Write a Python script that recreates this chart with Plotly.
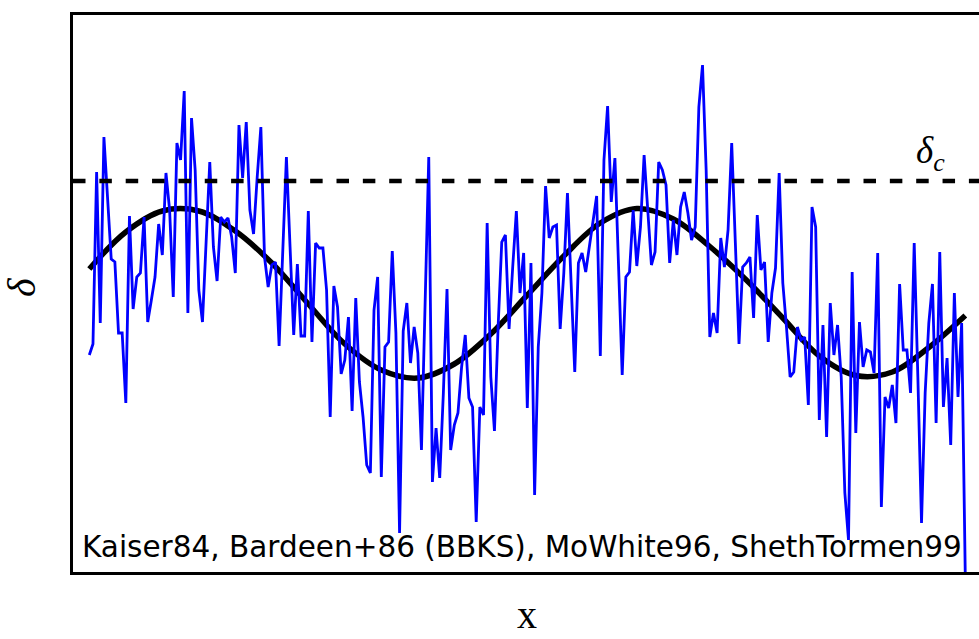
import plotly.graph_objects as go

# Noisy density field delta(x), sampled on a uniform grid (index 0..240)
delta_noisy = [
    -62, -51, 121, -30, 156, 93, 34, 31, -40, -40, -110, 77, -16, 16, 20, 76, -29, -7, 16, 69,
    38, 120, 83, -4, 150, 133, 202, -20, 175,
    123, 3, -29, 46, 131, 46, 12, 76, 71, 75, 56, 20, 168, 115, 171, 83, 59, 116, 166, 36,
    6, 28, 31, -53, 46, 136, 46, -42, 29, -43,
    -43, 82, -49, 50, 45, 45, 3, -124, 7, -14, -81, -67, -24, -118, -5, -89, -124, -172, -180, -17,
    16, -184, -54, -49, 42, -40, -240, -38, -10, -70,
    -34, -60, -157, -10, 136, -189, -135, -185, -100, 4, -157, -132, -120, -74, -42, -105, -114, -229, -114, -122,
    70, -84, -138, -34, 51, 58, -36, 26, 82, 0, 40,
    -115, 30, -202, -54, 0, 107, 55, 66, 68, -36, 20, 100, 10, -79, 30, 40, 21, 46, 73, 97,
    -63, 133, 187, 91, 135, 26, -82, 16, 21, 83,
    27, 66, 138, 83, 28, 41, 131, 123, 108, 30, 73, 38, 86, 101, 80, 53, 66, 186, 228, 123,
    -44, -20, -40, 55, 26, 63, 150, 50, -51, 26,
    30, 36, -25, 78, 23, 31, -49, 0, 25, 120, 10, -34, -84, -79, -34, -47, -44, -112, 86, 66,
    -127, -32, -144, -10, -62, -32, -84, -200, -247, 21, -140,
    -29, -74, -57, -59, -80, 40, -214, -104, -115, -92, -130, 9, -57, -57, -100, 50, -84, -230, -100, -30,
    9, -130, 41, -114, -65, -152, 0, -104, -30, -285,
]
x_noisy = list(range(len(delta_noisy)))

# Smoothed (large-scale) field, sampled every 10 grid steps
x_smooth = [0, 10, 20, 30, 40, 50, 60, 70, 80, 90, 100, 110, 120, 130, 140, 150, 160, 170, 180, 190, 200, 210, 220, 230, 240]
delta_smooth = [24, 61, 82, 82, 62, 30, -11, -51, -77, -85, -71, -41, -2, 37, 70, 84.5, 74, 46.5, 13, -25, -63, -82.5, -79, -54.5, -22.5]

delta_c = 112

label_text = "Kaiser84, Bardeen+86 (BBKS), MoWhite96, ShethTormen99"

fig = go.Figure()
fig.add_trace(go.Scatter(x=x_smooth, y=delta_smooth, mode="lines",
                         line=dict(color="black", width=5.5, shape="spline"),
                         hoverinfo="skip", showlegend=False))
fig.add_trace(go.Scatter(x=x_noisy, y=delta_noisy, mode="lines",
                         line=dict(color="#0000ff", width=2.8),
                         hoverinfo="skip", showlegend=False))

fig.add_shape(type="line", xref="paper", x0=0, x1=1, yref="y", y0=delta_c, y1=delta_c,
              line=dict(color="black", width=4.5, dash="12.5px,13.85px"), layer="above")

serif = "Liberation Serif, Times New Roman, serif"
fig.add_annotation(text=label_text, xref="paper", yref="paper", x=0.0077, y=0.045,
                   xanchor="left", yanchor="middle", showarrow=False,
                   font=dict(family="DejaVu Sans", size=29.5, color="black"))
fig.add_annotation(text="<i>δ</i>", xref="paper", yref="paper", x=-0.056, y=0.512,
                   xanchor="center", yanchor="middle", showarrow=False, textangle=-90,
                   font=dict(family=serif, size=40, color="black"))
fig.add_annotation(text="x", xref="paper", yref="paper", x=0.5011, y=-0.1195,
                   xanchor="center", yanchor="bottom", showarrow=False,
                   font=dict(family=serif, size=40, color="black"))
fig.add_annotation(text="<i>δ<sub>c</sub></i>", xref="paper", yref="paper", x=0.9285, y=0.706,
                   xanchor="left", yanchor="bottom", showarrow=False,
                   font=dict(family=serif, size=37, color="black"))

fig.update_xaxes(range=[-4.47, 243.75], showgrid=False, zeroline=False, showticklabels=False,
                 ticks="", showline=True, linewidth=3, linecolor="black", mirror=True)
fig.update_yaxes(range=[-279, 278], showgrid=False, zeroline=False, showticklabels=False,
                 ticks="", showline=True, linewidth=3, linecolor="black", mirror=False)

fig.update_layout(width=979, height=639, margin=dict(l=73, r=0, t=15, b=67),
                  paper_bgcolor="white", plot_bgcolor="white")

fig.write_html("out.html")
